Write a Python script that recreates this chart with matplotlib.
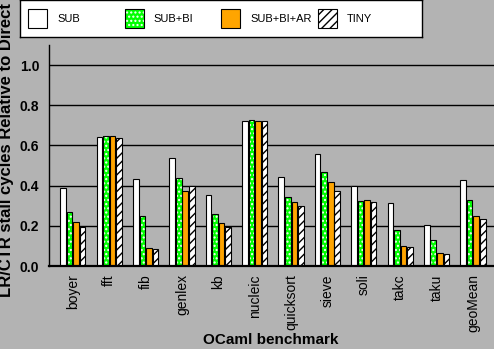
import numpy as np
import matplotlib
matplotlib.use("Agg")
import matplotlib.pyplot as plt
from matplotlib.patches import Rectangle

plt.rcParams['font.family'] = ['Liberation Sans', 'DejaVu Sans']
plt.rcParams['hatch.linewidth'] = 1.0

benchmarks = ['boyer', 'fft', 'fib', 'genlex', 'kb', 'nucleic', 'quicksort',
              'sieve', 'soli', 'takc', 'taku', 'geoMean']
series_names = ['SUB', 'SUB+BI', 'SUB+BI+AR', 'TINY']

sub = [0.387, 0.640, 0.431, 0.536, 0.352, 0.720, 0.441, 0.556, 0.397, 0.312, 0.202, 0.426]
sub_bi = [0.267, 0.645, 0.247, 0.436, 0.257, 0.725, 0.342, 0.466, 0.322, 0.178, 0.128, 0.327]
sub_bi_ar = [0.217, 0.645, 0.088, 0.372, 0.212, 0.720, 0.317, 0.416, 0.327, 0.098, 0.063, 0.247]
tiny = [0.194, 0.635, 0.083, 0.397, 0.194, 0.720, 0.297, 0.372, 0.317, 0.093, 0.058, 0.232]

# fill colour, hatch pattern, hatch colour
styles = [
    ('white', '', 'white'),
    ('#00ff00', '....', 'white'),
    ('#ffa500', '', '#ffa500'),
    ('white', '////', 'black'),
]
bg = '#b3b3b3'

W, H = 494, 349
fig = plt.figure(figsize=(W / 100, H / 100), dpi=100, facecolor=bg)
ax = fig.add_axes([49 / W, (H - 266) / H, (W - 49) / W, (266 - 45) / H])
ax.set_facecolor(bg)

x = np.arange(len(benchmarks))
step, width = 0.18, 0.155
for i, (vals, (fc, hatch, hc)) in enumerate(zip([sub, sub_bi, sub_bi_ar, tiny], styles)):
    pos = x + (i - 1.5) * step
    ax.bar(pos, vals, width, color=fc, edgecolor=hc, hatch=hatch, linewidth=0, zorder=2)
    ax.bar(pos, vals, width, fill=False, edgecolor='black', linewidth=0.8, zorder=3)

ax.set_xlim(-0.656, 11.58)
ax.set_ylim(0, 1.1)
ax.set_yticks(np.arange(0, 1.01, 0.2))
ax.set_yticklabels(['%.1f' % v for v in np.arange(0, 1.01, 0.2)], fontweight='bold', fontsize=10)
ax.set_xticks(x)
ax.set_xticklabels(benchmarks, rotation=90, fontsize=10)
ax.tick_params(axis='both', length=0)
ax.tick_params(axis='y', pad=7)
ax.tick_params(axis='x', pad=6)
for v in np.arange(0.2, 1.01, 0.2):
    ax.axhline(v, color='black', linewidth=1.0, zorder=1)

ax.spines['top'].set_visible(False)
ax.spines['right'].set_visible(False)
ax.spines['left'].set_linewidth(1.0)
ax.spines['bottom'].set_linewidth(1.6)
ax.spines['bottom'].set_zorder(4)

fig.text(271 / W, 2 / H, 'OCaml benchmark', ha='center', va='bottom',
         fontsize=11, fontweight='bold')
fig.text(7 / W, (H - 150) / H, 'LR/CTR stall cycles Relative to Direct', rotation=90,
         ha='center', va='center', fontsize=12, fontweight='bold')

# legend box across the top
lax = fig.add_axes([20 / W, (H - 37) / H, 402 / W, 37 / H])
lax.set_xlim(0, 402)
lax.set_ylim(0, 37)
lax.set_xticks([])
lax.set_yticks([])
lax.set_facecolor('white')
for s in lax.spines.values():
    s.set_linewidth(1.0)
for i, (name, (fc, hatch, hc)) in enumerate(zip(series_names, styles)):
    x0 = 8 + 96.5 * i
    lax.add_patch(Rectangle((x0, 9), 19, 19, facecolor=fc, edgecolor=hc,
                            hatch=hatch, linewidth=0))
    lax.add_patch(Rectangle((x0, 9), 19, 19, fill=False, edgecolor='black', linewidth=0.8))
    lax.text(x0 + 29, 18.5, name, va='center', ha='left', fontsize=8)

fig.savefig('out.png', dpi=100, facecolor=bg)
